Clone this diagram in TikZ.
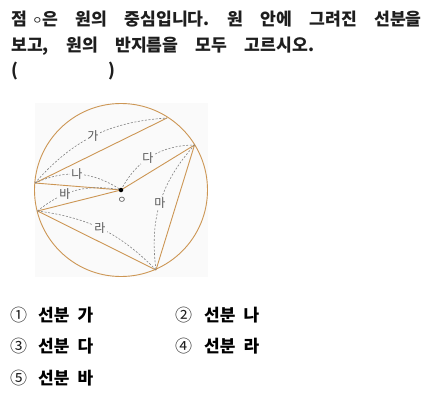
\documentclass[tikz,border=0pt]{standalone}
\usepackage{fontspec}
\newfontfamily\kr{Noto Sans CJK KR}
\newfontfamily\krt[WordSpace=2.05]{Noto Sans CJK KR}
\newfontfamily\kro[WordSpace=2.1]{Noto Sans CJK KR}
\definecolor{segc}{RGB}{204,150,84}
\definecolor{bgc}{RGB}{250,250,250}
\definecolor{dshc}{RGB}{130,130,130}
\definecolor{labc}{RGB}{85,85,85}
\definecolor{txtc}{RGB}{30,30,30}
\newcommand\ttlfont{\krt\bfseries\fontsize{17.2}{20}\selectfont\frenchspacing}
\newcommand\optfont{\kro\bfseries\fontsize{17}{20}\selectfont\frenchspacing}
\newcommand\smallieung{{\kr\mdseries\fontsize{11}{11}\selectfont\raisebox{1.5pt}{ㅇ}}}
\begin{document}
\begin{tikzpicture}[x=1pt,y=-1pt,
  seg/.style={draw=segc,line width=0.9pt},
  dsh/.style={draw=dshc,line width=0.6pt,dash pattern=on 2pt off 1.6pt},
  lab/.style={font=\kr\fontsize{12}{12}\selectfont,text=labc,fill=bgc,inner sep=1pt},
  ttl/.style={anchor=base west,inner sep=0pt,text=txtc,font=\ttlfont},
  opt/.style={anchor=base west,inner sep=0pt,text=black,font=\optfont},
  num/.style={anchor=base west,inner sep=0pt,text=txtc,font=\kr\fontsize{17}{20}\selectfont}]
\useasboundingbox (0,0) rectangle (441,401);
\fill[white] (0,0) rectangle (441,401);
\fill[bgc] (34.5,103.5) rectangle (208,277);
% title
\node[ttl] (t1) at (11,26) {점 \hspace{-3pt}\smallieung 은 원의 중심입니다. 원 안에 그려진 선분을};
\node[ttl] (t2) at (11,52) {보고, 원의 반지름을 모두 고르시오.};
\node[ttl] (t3a) at (11,77) {(};
\node[ttl] (t3b) at (108,77) {)};
% geometry
\coordinate (O) at (121,190);
\coordinate (A) at (35,183);
\coordinate (B) at (167,118);
\coordinate (C) at (194.5,145);
\coordinate (D) at (37.5,211);
\coordinate (E) at (156,270);
\node[circle,draw=segc,line width=0.9pt,minimum size=173pt,inner sep=0pt] (circ) at (O) {};
\draw[seg] (A) -- (B);
\draw[seg] (A) -- (O);
\draw[seg] (O) -- (C);
\draw[seg] (D) -- (O);
\draw[seg] (D) -- (E);
\draw[seg] (C) -- (E);
\draw[dsh] (A) to[bend left=22.5] (B);
\draw[dsh] (A) to[bend left=29] (O);
\draw[dsh] (O) to[bend left=31] (C);
\draw[dsh] (D) to[bend left=25] (O);
\draw[dsh] (D) to[bend left=19] (E);
\draw[dsh] (C) to[bend right=24.6] (E);
\node[lab] (lga) at (93,136) {가};
\node[lab] (lna) at (77,174) {나};
\node[lab] (lda) at (148,158) {다};
\node[lab] (lba) at (65,194) {바};
\node[lab] (lra) at (100,228) {라};
\node[lab] (lma) at (160,203) {마};
\node[circle,fill=black,inner sep=0pt,minimum size=4.5pt] (dot) at (O) {};
\node[font=\kr\fontsize{10}{10}\selectfont,text=labc,inner sep=0pt] (lo) at (122,200.5) {ㅇ};
% options
\node[num] (n1) at (10,321) {①};
\node[opt] (o1) at (38,321) {선분 가};
\node[num] (n2) at (175,321) {②};
\node[opt] (o2) at (204,321) {선분 나};
\node[num] (n3) at (10,352) {③};
\node[opt] (o3) at (38,352) {선분 다};
\node[num] (n4) at (175,352) {④};
\node[opt] (o4) at (204,352) {선분 라};
\node[num] (n5) at (10,384) {⑤};
\node[opt] (o5) at (38,384) {선분 바};
\end{tikzpicture}
\end{document}
